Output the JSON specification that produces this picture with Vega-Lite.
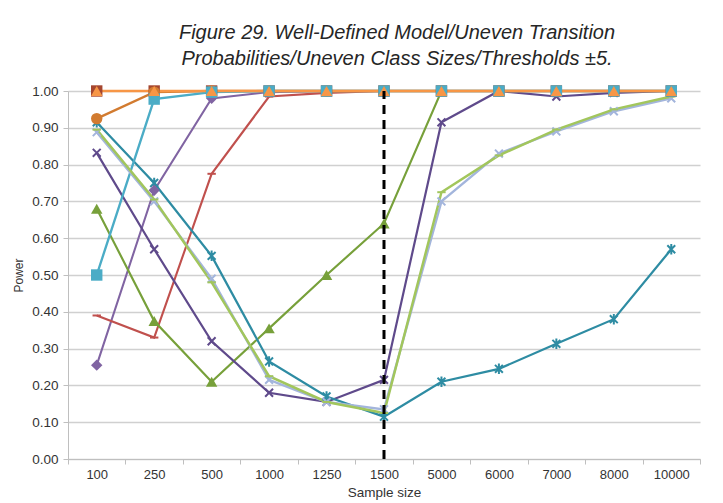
{
  "$schema": "https://vega.github.io/schema/vega-lite/v6.json",
  "width": 632,
  "height": 368,
  "autosize": {"type": "none"},
  "padding": {"left": 68, "top": 91, "right": 23, "bottom": 44},
  "background": "white",
  "title": {
    "text": ["Figure 29. Well-Defined Model/Uneven Transition", "Probabilities/Uneven Class Sizes/Thresholds ±5."],
    "font": "Liberation Sans",
    "fontSize": 20,
    "fontStyle": "italic",
    "fontWeight": "normal",
    "color": "#262626",
    "anchor": "middle",
    "frame": "group",
    "dx": 13,
    "offset": 14,
    "lineHeight": 26
  },
  "config": {
    "font": "Liberation Sans",
    "view": {"stroke": null},
    "axis": {
      "domainColor": "#bfbfbf",
      "tickColor": "#bfbfbf",
      "tickSize": 5,
      "labelColor": "#333333",
      "titleColor": "#333333",
      "titleFontWeight": "normal",
      "titleFontSize": 13,
      "labelFont": "Liberation Sans",
      "titleFont": "Liberation Sans"
    }
  },
  "data": {
    "values": [
      {"series": "K", "n": "100", "p": 1.0}, {"series": "K", "n": "250", "p": 1.0}, {"series": "K", "n": "500", "p": 1.0}, {"series": "K", "n": "1000", "p": 1.0}, {"series": "K", "n": "1250", "p": 1.0}, {"series": "K", "n": "1500", "p": 1.0}, {"series": "K", "n": "5000", "p": 1.0}, {"series": "K", "n": "6000", "p": 1.0}, {"series": "K", "n": "7000", "p": 1.0}, {"series": "K", "n": "8000", "p": 1.0}, {"series": "K", "n": "10000", "p": 1.0},

      {"series": "A", "n": "100", "p": 0.255}, {"series": "A", "n": "250", "p": 0.73}, {"series": "A", "n": "500", "p": 0.98}, {"series": "A", "n": "1000", "p": 0.997}, {"series": "A", "n": "1250", "p": 1.0}, {"series": "A", "n": "1500", "p": 1.0}, {"series": "A", "n": "5000", "p": 1.0}, {"series": "A", "n": "6000", "p": 1.0}, {"series": "A", "n": "7000", "p": 1.0}, {"series": "A", "n": "8000", "p": 1.0}, {"series": "A", "n": "10000", "p": 1.0},

      {"series": "B", "n": "100", "p": 0.39}, {"series": "B", "n": "250", "p": 0.33}, {"series": "B", "n": "500", "p": 0.775}, {"series": "B", "n": "1000", "p": 0.985}, {"series": "B", "n": "1250", "p": 0.995}, {"series": "B", "n": "1500", "p": 1.0}, {"series": "B", "n": "5000", "p": 1.0}, {"series": "B", "n": "6000", "p": 1.0}, {"series": "B", "n": "7000", "p": 1.0}, {"series": "B", "n": "8000", "p": 1.0}, {"series": "B", "n": "10000", "p": 1.0},

      {"series": "C", "n": "100", "p": 0.68}, {"series": "C", "n": "250", "p": 0.375}, {"series": "C", "n": "500", "p": 0.21}, {"series": "C", "n": "1000", "p": 0.355}, {"series": "C", "n": "1250", "p": 0.5}, {"series": "C", "n": "1500", "p": 0.64}, {"series": "C", "n": "5000", "p": 1.0}, {"series": "C", "n": "6000", "p": 1.0}, {"series": "C", "n": "7000", "p": 1.0}, {"series": "C", "n": "8000", "p": 1.0}, {"series": "C", "n": "10000", "p": 1.0},

      {"series": "D", "n": "100", "p": 0.832}, {"series": "D", "n": "250", "p": 0.57}, {"series": "D", "n": "500", "p": 0.32}, {"series": "D", "n": "1000", "p": 0.18}, {"series": "D", "n": "1250", "p": 0.155}, {"series": "D", "n": "1500", "p": 0.215}, {"series": "D", "n": "5000", "p": 0.915}, {"series": "D", "n": "6000", "p": 1.0}, {"series": "D", "n": "7000", "p": 0.985}, {"series": "D", "n": "8000", "p": 0.995}, {"series": "D", "n": "10000", "p": 1.0},

      {"series": "E", "n": "100", "p": 0.915}, {"series": "E", "n": "250", "p": 0.75}, {"series": "E", "n": "500", "p": 0.552}, {"series": "E", "n": "1000", "p": 0.265}, {"series": "E", "n": "1250", "p": 0.17}, {"series": "E", "n": "1500", "p": 0.115}, {"series": "E", "n": "5000", "p": 0.21}, {"series": "E", "n": "6000", "p": 0.245}, {"series": "E", "n": "7000", "p": 0.313}, {"series": "E", "n": "8000", "p": 0.38}, {"series": "E", "n": "10000", "p": 0.57},

      {"series": "F", "n": "100", "p": 0.925}, {"series": "F", "n": "250", "p": 0.997}, {"series": "F", "n": "500", "p": 1.0}, {"series": "F", "n": "1000", "p": 1.0}, {"series": "F", "n": "1250", "p": 1.0}, {"series": "F", "n": "1500", "p": 1.0}, {"series": "F", "n": "5000", "p": 1.0}, {"series": "F", "n": "6000", "p": 1.0}, {"series": "F", "n": "7000", "p": 1.0}, {"series": "F", "n": "8000", "p": 1.0}, {"series": "F", "n": "10000", "p": 1.0},

      {"series": "G", "n": "100", "p": 0.5}, {"series": "G", "n": "250", "p": 0.978}, {"series": "G", "n": "500", "p": 0.997}, {"series": "G", "n": "1000", "p": 1.0}, {"series": "G", "n": "1250", "p": 1.0}, {"series": "G", "n": "1500", "p": 1.0}, {"series": "G", "n": "5000", "p": 1.0}, {"series": "G", "n": "6000", "p": 1.0}, {"series": "G", "n": "7000", "p": 1.0}, {"series": "G", "n": "8000", "p": 1.0}, {"series": "G", "n": "10000", "p": 1.0},

      {"series": "H", "n": "100", "p": 0.888}, {"series": "H", "n": "250", "p": 0.7}, {"series": "H", "n": "500", "p": 0.49}, {"series": "H", "n": "1000", "p": 0.215}, {"series": "H", "n": "1250", "p": 0.155}, {"series": "H", "n": "1500", "p": 0.135}, {"series": "H", "n": "5000", "p": 0.7}, {"series": "H", "n": "6000", "p": 0.83}, {"series": "H", "n": "7000", "p": 0.89}, {"series": "H", "n": "8000", "p": 0.945}, {"series": "H", "n": "10000", "p": 0.98},

      {"series": "I", "n": "100", "p": 0.895}, {"series": "I", "n": "250", "p": 0.705}, {"series": "I", "n": "500", "p": 0.48}, {"series": "I", "n": "1000", "p": 0.225}, {"series": "I", "n": "1250", "p": 0.155}, {"series": "I", "n": "1500", "p": 0.125}, {"series": "I", "n": "5000", "p": 0.725}, {"series": "I", "n": "6000", "p": 0.825}, {"series": "I", "n": "7000", "p": 0.895}, {"series": "I", "n": "8000", "p": 0.95}, {"series": "I", "n": "10000", "p": 0.985},

      {"series": "J", "n": "100", "p": 1.0}, {"series": "J", "n": "250", "p": 1.0}, {"series": "J", "n": "500", "p": 1.0}, {"series": "J", "n": "1000", "p": 1.0}, {"series": "J", "n": "1250", "p": 1.0}, {"series": "J", "n": "1500", "p": 1.0}, {"series": "J", "n": "5000", "p": 1.0}, {"series": "J", "n": "6000", "p": 1.0}, {"series": "J", "n": "7000", "p": 1.0}, {"series": "J", "n": "8000", "p": 1.0}, {"series": "J", "n": "10000", "p": 1.0}
    ]
  },
  "encoding": {
    "x": {
      "field": "n",
      "type": "ordinal",
      "sort": ["100", "250", "500", "1000", "1250", "1500", "5000", "6000", "7000", "8000", "10000"],
      "scale": {"type": "band", "paddingInner": 0, "paddingOuter": 0},
      "axis": {
        "title": "Sample size",
        "labelAngle": 0,
        "tickBand": "extent",
        "labelFontSize": 13,
        "labelPadding": 4,
        "titleFontSize": 13.5,
        "titlePadding": 4,
        "grid": false
      }
    },
    "y": {
      "field": "p",
      "type": "quantitative",
      "scale": {"domain": [0, 1], "nice": false, "zero": true},
      "axis": {
        "title": "Power",
        "format": ".2f",
        "values": [0, 0.1, 0.2, 0.3, 0.4, 0.5, 0.6, 0.7, 0.8, 0.9, 1.0],
        "labelFontSize": 13.5,
        "labelPadding": 5,
        "titleFontSize": 12,
        "titlePadding": 6,
        "grid": true,
        "gridColor": "#d0d0d0",
        "gridWidth": 1.5
      }
    },
    "color": {
      "field": "series",
      "type": "nominal",
      "legend": null,
      "scale": {
        "domain": ["K", "A", "B", "C", "D", "E", "F", "G", "H", "I", "J"],
        "range": ["#A5462F", "#8064A2", "#C0504D", "#77A03A", "#5F4A8B", "#2E8CA3", "#D27B30", "#4BACC6", "#A3B5DC", "#A2C65C", "#F79646"]
      }
    },
    "shape": {
      "field": "series",
      "type": "nominal",
      "legend": null,
      "scale": {
        "domain": ["K", "A", "B", "C", "D", "E", "F", "G", "H", "I", "J"],
        "range": [
          "square",
          "diamond",
          "M-0.8,0L0.8,0",
          "triangle-up",
          "M-0.75,-0.75L0.75,0.75M-0.75,0.75L0.75,-0.75",
          "M-0.75,-0.75L0.75,0.75M-0.75,0.75L0.75,-0.75M0,-1L0,1",
          "circle",
          "square",
          "M-0.75,-0.75L0.75,0.75M-0.75,0.75L0.75,-0.75",
          "M-0.8,0L0.8,0",
          "triangle-up"
        ]
      }
    }
  },
  "layer": [
    {
      "mark": {"type": "line", "interpolate": "linear"},
      "encoding": {
        "shape": null,
        "strokeWidth": {
          "field": "series",
          "type": "nominal",
          "legend": null,
          "scale": {
            "domain": ["K", "A", "B", "C", "D", "E", "F", "G", "H", "I", "J"],
            "range": [2, 2.5, 2.5, 2.5, 2.5, 2.5, 2.5, 2.5, 2.5, 2.5, 1.5]
          }
        }
      }
    },
    {
      "transform": [{"filter": {"field": "series", "oneOf": ["B", "D", "E", "H", "I"]}}],
      "mark": {"type": "point", "filled": false, "opacity": 1, "strokeWidth": 2},
      "encoding": {
        "size": {"value": 110}
      }
    },
    {
      "transform": [{"filter": {"field": "series", "oneOf": ["K", "A", "C", "F", "G", "J"]}}],
      "mark": {"type": "point", "filled": true, "opacity": 1},
      "encoding": {
        "size": {"value": 130}
      }
    },
    {
      "data": {"values": [{"n": "1500", "lo": 0, "hi": 1}]},
      "mark": {"type": "rule", "color": "#000000", "strokeWidth": 3, "strokeDash": [9, 6]},
      "encoding": {
        "x": {"field": "n", "type": "ordinal"},
        "y": {"field": "lo", "type": "quantitative"},
        "y2": {"field": "hi"},
        "color": {"value": "#000000"},
        "shape": null
      }
    }
  ]
}
